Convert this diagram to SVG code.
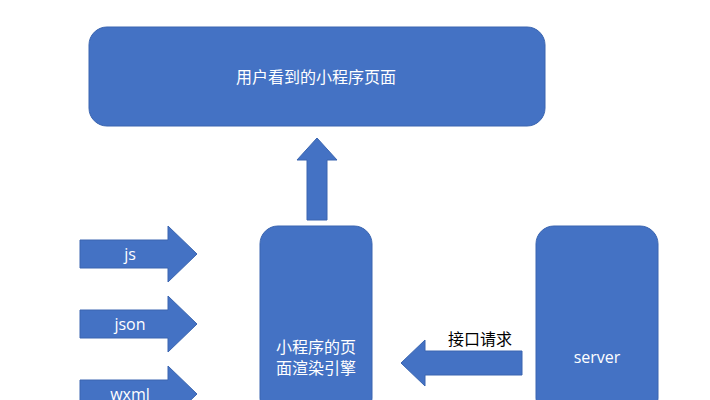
<svg xmlns="http://www.w3.org/2000/svg" width="710" height="400" viewBox="0 0 710 400">
<style>
.s{fill:#4472C4;stroke:#3A65B0;stroke-width:1}
.t{font-family:"Open Sans","Noto Sans CJK SC",sans-serif;font-size:16px;fill:#fff;text-anchor:middle}
.k{font-family:"Noto Sans CJK SC",sans-serif;font-size:16px;fill:#000;text-anchor:middle}
</style>
<rect width="710" height="400" fill="#fff"/>
<g id="page"><rect class="s" x="89" y="27" width="456" height="99" rx="18"/><text class="t" x="316" y="83">用户看到的小程序页面</text></g>
<g id="engine"><rect class="s" x="260" y="226" width="112" height="190" rx="18"/><text class="t" x="316" y="353">小程序的页</text><text class="t" x="316" y="374">面渲染引擎</text></g>
<g id="server"><rect class="s" x="536" y="226" width="122" height="190" rx="18"/><text class="t" x="597" y="363">server</text></g>
<g id="connectors">
<polygon class="s" points="307,220 307,160 297,160 317,138 337,160 327,160 327,220"/>
<polygon class="s" points="522,351 425,351 425,340 401,363 425,386 425,375 522,375"/>
<polygon class="s" points="80,240 168,240 168,226 197,254 168,282 168,268 80,268"/>
<polygon class="s" points="80,310 168,310 168,296 197,324 168,352 168,338 80,338"/>
<polygon class="s" points="80,380 168,380 168,366 197,394 168,422 168,408 80,408"/>
<text class="k" x="480" y="345">接口请求</text>
<text class="t" x="130" y="260">js</text>
<text class="t" x="130" y="330">json</text>
<text class="t" x="130" y="400">wxml</text>
</g>
</svg>
